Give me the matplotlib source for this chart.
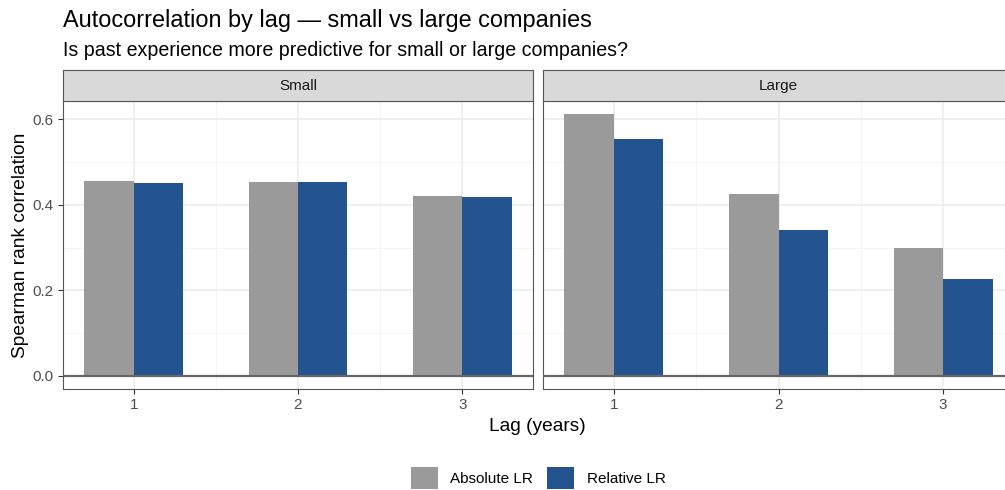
import matplotlib.pyplot as plt
import numpy as np
from matplotlib.patches import Patch, Rectangle

plt.rcParams["font.family"] = ["Liberation Sans", "DejaVu Sans"]

lags = [1, 2, 3]
panels = ["Small", "Large"]
absolute_lr = {"Small": [0.456, 0.453, 0.421], "Large": [0.612, 0.426, 0.298]}
relative_lr = {"Small": [0.451, 0.453, 0.419], "Large": [0.553, 0.340, 0.227]}
series = ["Absolute LR", "Relative LR"]
colors = ["#9a9a9a", "#23548f"]

W, H = 1005, 490
fig = plt.figure(figsize=(W / 100, H / 100), dpi=100)


def frac(x0, y0, x1, y1):
    # pixel box (top-left origin) -> figure fraction
    return [x0 / W, 1 - y1 / H, (x1 - x0) / W, (y1 - y0) / H]


panel_px = [(63, 533), (543, 1014)]
top, bottom = 101, 389
width = 0.3
x = np.array(lags)

for i, (name, (px0, px1)) in enumerate(zip(panels, panel_px)):
    ax = fig.add_axes(frac(px0, top, px1, bottom))
    ax.bar(x - width / 2, absolute_lr[name], width, color=colors[0], zorder=2)
    ax.bar(x + width / 2, relative_lr[name], width, color=colors[1], zorder=2)
    ax.axhline(0, color="#666666", lw=1.6, zorder=3)
    ax.set_xlim(0.57, 3.43)
    ymax = max(absolute_lr["Large"])
    ax.set_ylim(-0.05 * ymax, 1.05 * ymax)
    ax.set_xticks(lags)
    ax.set_xticks([1.5, 2.5], minor=True)
    ax.set_yticks([0.0, 0.2, 0.4, 0.6])
    ax.set_yticks([0.1, 0.3, 0.5], minor=True)
    ax.grid(True, which="major", color="#ebebeb", lw=1.1, zorder=0)
    ax.grid(True, which="minor", color="#f2f2f2", lw=0.6, zorder=0)
    ax.tick_params(which="minor", length=0)
    ax.tick_params(which="major", length=3.5, color="#333333", width=0.8,
                   labelsize=11, labelcolor="#4d4d4d", pad=3)
    ax.set_xticklabels([str(v) for v in lags])
    if i == 0:
        ax.set_yticklabels(["0.0", "0.2", "0.4", "0.6"])
        ax.set_ylabel("Spearman rank correlation", fontsize=13.75, labelpad=3)
    else:
        ax.tick_params(axis="y", left=False, labelleft=False)
    for s in ax.spines.values():
        s.set_color("#555555")
        s.set_linewidth(0.8)

    sax = fig.add_axes(frac(px0, 70, px1, top))
    sax.add_patch(Rectangle((0, 0), 1, 1, transform=sax.transAxes,
                            facecolor="#d9d9d9", edgecolor="none"))
    sax.set_xticks([])
    sax.set_yticks([])
    for s in sax.spines.values():
        s.set_color("#555555")
        s.set_linewidth(0.8)
    sax.text(0.5 if i == 0 else (778 - px0) / (px1 - px0), 0.5, name,
             ha="center", va="center", fontsize=11, color="#1a1a1a",
             transform=sax.transAxes)

fig.text(63 / W, 1 - 21 / H, "Autocorrelation by lag \u2014 small vs large companies",
         fontsize=16.9, color="black", va="center", ha="left")
fig.text(63 / W, 1 - 50 / H, "Is past experience more predictive for small or large companies?",
         fontsize=14.1, color="black", va="center", ha="left")
fig.text(537 / W, 1 - 426 / H, "Lag (years)", fontsize=13.75, ha="center", va="center")

handles = [Patch(facecolor=c, edgecolor="none") for c in colors]
fig.legend(handles, series, loc="center", bbox_to_anchor=(538 / W, 1 - 478 / H),
           ncol=2, frameon=False, fontsize=11, handlelength=1.8, handleheight=1.8,
           columnspacing=0.9, handletextpad=0.8)

fig.savefig("out.png", dpi=100)
